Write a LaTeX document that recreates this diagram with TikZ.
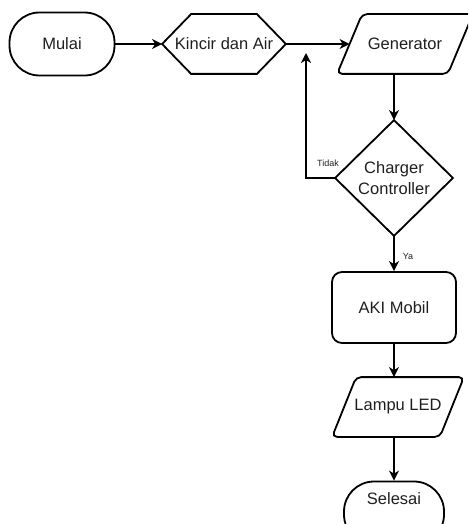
\documentclass[tikz,border=0pt]{standalone}
\usepackage{fontspec}
\setmainfont{Liberation Sans}
\usetikzlibrary{arrows.meta}
\begin{document}
\begin{tikzpicture}[x=1pt,y=-1pt, line width=1.8pt,
  every node/.style={font=\fontsize{16.5}{21}\selectfont, text=black!88, inner sep=0pt},
  arr/.style={-{Stealth[length=10pt,width=10pt,inset=3pt]}, line width=1.8pt},
  small/.style={font=\fontsize{9}{10}\selectfont}]
\clip (0,0) rectangle (468,524);
% Mulai
\node[draw, rounded corners=30pt, minimum width=105pt, minimum height=63pt] (mulai) at (62,44) {Mulai};
% Kincir dan Air (hexagon)
\node[minimum width=122pt, minimum height=58pt] (kin) at (224,44) {Kincir dan Air};
\draw (kin.west) -- ([xshift=29pt]kin.north west) -- ([xshift=-29pt]kin.north east) -- (kin.east) -- ([xshift=-29pt]kin.south east) -- ([xshift=29pt]kin.south west) -- cycle;
% Generator (parallelogram)
\node[minimum width=134pt, minimum height=58pt] (gen) at (405,44) {Generator};
\draw[rounded corners=5pt] ([xshift=25pt]gen.north west) -- (gen.north east) -- ([xshift=-25pt]gen.south east) -- (gen.south west) -- cycle;
% Charger Controller (diamond)
\node[minimum width=116pt, minimum height=114pt, align=center] (dia) at (394,178) {Charger\\Controller};
\draw (dia.north) -- (dia.east) -- (dia.south) -- (dia.west) -- cycle;
% AKI Mobil
\node[draw, rounded corners=10pt, minimum width=124pt, minimum height=71pt] (aki) at (394,307.5) {AKI Mobil};
% Lampu LED (parallelogram)
\node[minimum width=130pt, minimum height=58pt] (lampu) at (398,407) {Lampu LED};
\draw[rounded corners=5pt] ([xshift=24pt]lampu.north west) -- (lampu.north east) -- ([xshift=-24pt]lampu.south east) -- (lampu.south west) -- cycle;
% Selesai
\node[draw, rounded corners=30pt, minimum width=100pt, minimum height=63pt] (sel) at (394,513) {};
\node (seltext) at (394,499) {Selesai};
% connectors
\draw[arr] (mulai.east) -- (kin.west);
\draw[arr] (kin.east) -- ([xshift=12.5pt]gen.west);
\draw[arr] ([xshift=-11pt]gen.south) -- (dia.north);
\coordinate (loopend) at (306,53);
\draw[arr] (dia.west) -| (loopend);
\node[small] (tidak) at (328,163) {Tidak};
\draw[arr] (dia.south) -- (aki.north);
\node[small] (ya) at (408,256) {Ya};
\draw[arr] (aki.south) -- ([xshift=-4pt]lampu.north);
\draw[arr] ([xshift=-4pt]lampu.south) -- (sel.north);
\end{tikzpicture}
\end{document}
